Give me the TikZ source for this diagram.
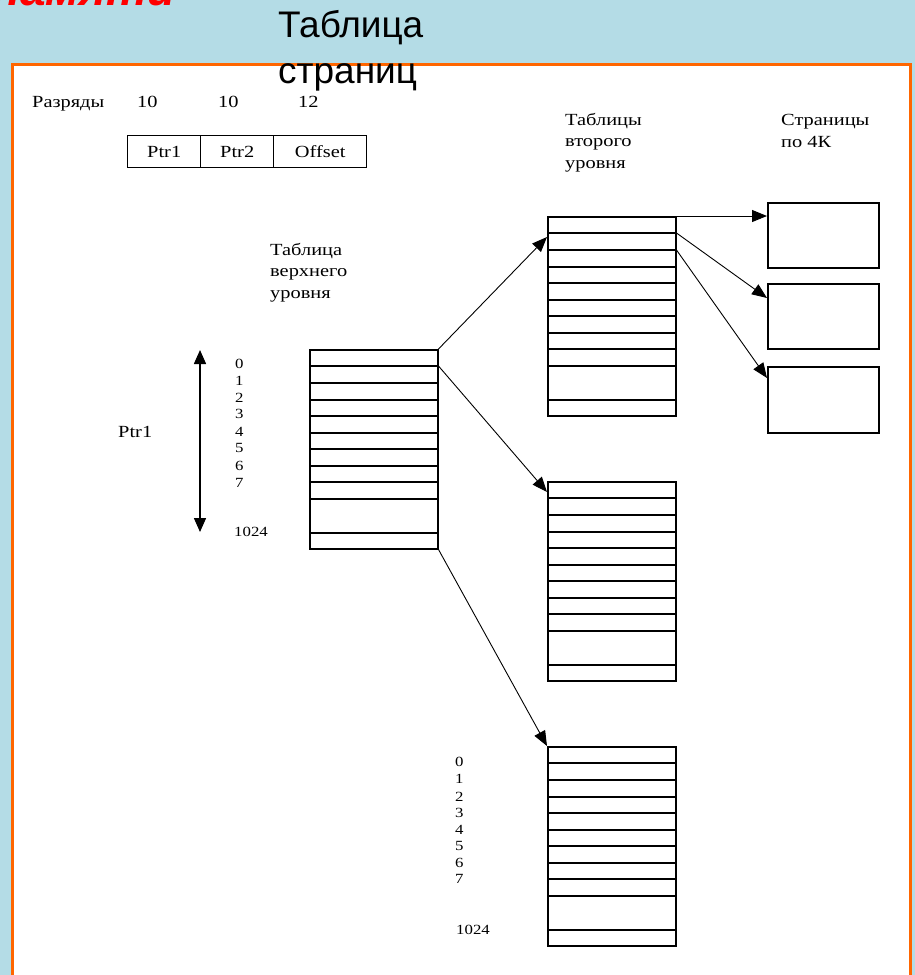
\documentclass[tikz,border=0pt]{standalone}
\usepackage{fontspec}
\setmainfont{Liberation Serif}
\newfontfamily\figfont[FakeStretch=1.2]{Liberation Serif}
\newfontfamily\headfont{Liberation Sans}
\usetikzlibrary{arrows.meta,calc}
\definecolor{slidebg}{RGB}{180,220,230}
\definecolor{frameorange}{RGB}{255,102,0}
\definecolor{headred}{RGB}{255,0,0}

\begin{document}
\begin{tikzpicture}[x=1pt,y=-1pt,
  lbl/.style={font=\figfont\fontsize{17}{21.5}\selectfont, inner sep=0pt, align=left, anchor=base west},
  idx/.style={font=\figfont\fontsize{14}{16}\selectfont, inner sep=0pt, anchor=west},
  field/.style={draw, line width=1.4pt, minimum height=32pt, anchor=north west, inner sep=0pt,
                font=\figfont\fontsize{17}{20}\selectfont},
  tbl/.style={draw, line width=1.5pt, minimum width=128pt, minimum height=199pt, anchor=north west, inner sep=0pt},
  pagebox/.style={draw, line width=1.5pt, minimum width=111pt, minimum height=65pt, anchor=north west, inner sep=0pt},
  ptr/.style={line width=0.9pt, -{Triangle[length=15pt,width=12pt]}},
  idxrange/.style={line width=1.5pt, {Triangle[length=14pt,width=12pt]}-{Triangle[length=14pt,width=12pt]}},
  ]
\useasboundingbox (0,0) rectangle (915,975);
\clip (0,0) rectangle (915,975);

% slide background and framed white panel
\fill[slidebg] (0,0) rectangle (915,975);
\fill[white] (12,64) rectangle (910,990);
\draw[frameorange, line width=3pt] (12,990) -- (12,64) -- (910,64) -- (910,990);

% slide headings (base anchors sit on the last line)
\node[anchor=base east, inner sep=0pt, text=headred,
      font=\headfont\bfseries\itshape\fontsize{46}{50}\selectfont] (head) at (176,5) {памяти};
\node[anchor=base west, inner sep=0pt, align=left,
      font=\headfont\fontsize{37}{46}\selectfont] (title) at (278,83) {Таблица\\страниц};

% address layout
\node[lbl] (bits) at (32,107) {Разряды};
\node[lbl] (b1) at (137,107) {10};
\node[lbl] (b2) at (218,107) {10};
\node[lbl] (b3) at (298,107) {12};
\node[field, minimum width=73pt] (f1) at (127,135) {Ptr1};
\node[field, minimum width=73pt] (f2) at (200,135) {Ptr2};
\node[field, minimum width=93pt] (f3) at (273,135) {Offset};

% column headings
\node[lbl] (toph) at (270,298) {Таблица\\верхнего\\уровня};
\node[lbl] (sech) at (565,168) {Таблицы\\второго\\уровня};
\node[lbl] (pgh) at (781,147) {Страницы\\по 4К};

% tables
\node[tbl] (t0) at (309,349) {};
\node[tbl] (t1) at (547,216) {};
\node[tbl] (t2) at (547,481) {};
\node[tbl] (t3) at (547,746) {};
\foreach \t in {t0,t1,t2,t3}{
  \foreach \r in {17,34,51,67,84,100,117,133,150,184}{
    \draw[line width=1.5pt] ($(\t.north west)+(0,\r)$) -- ($(\t.north east)+(0,\r)$);
  }
}

% 4K pages
\node[pagebox] (p1) at (767,202) {};
\node[pagebox] (p2) at (767,283) {};
\node[pagebox, minimum height=66pt] (p3) at (767,366) {};

% index range of the top-level table
\coordinate (r0) at (200,350);
\coordinate (r1) at (200,532);
\draw[idxrange] (r0) -- (r1);
\node[lbl] (ptrlbl) at (118,437) {Ptr1};

\foreach \i/\y in {0/364,1/381,2/398,3/414,4/432,5/448,6/466,7/483}{
  \node[idx] (ia\i) at (235,\y) {\i};
}
\node[idx] (iaend) at (234,532) {1024};

\foreach \i/\y in {0/762,1/779,2/797,3/813,4/830,5/846,6/863,7/879}{
  \node[idx] (ib\i) at (455,\y) {\i};
}
\node[idx] (ibend) at (456,930) {1024};

% pointers
\draw[ptr] (t0.north east) -- ($(t1.north west)+(0,21)$);
\draw[ptr] ($(t0.north east)+(0,17)$) -- ($(t2.north west)+(0,11)$);
\draw[ptr] (t0.south east) -- (t3.north west);
\draw[ptr] (t1.north east) -- ($(p1.north west)+(0,14)$);
\draw[ptr] ($(t1.north east)+(0,17)$) -- ($(p2.north west)+(0,15)$);
\draw[ptr] ($(t1.north east)+(0,34)$) -- ($(p3.north west)+(0,12)$);
\end{tikzpicture}
\end{document}
